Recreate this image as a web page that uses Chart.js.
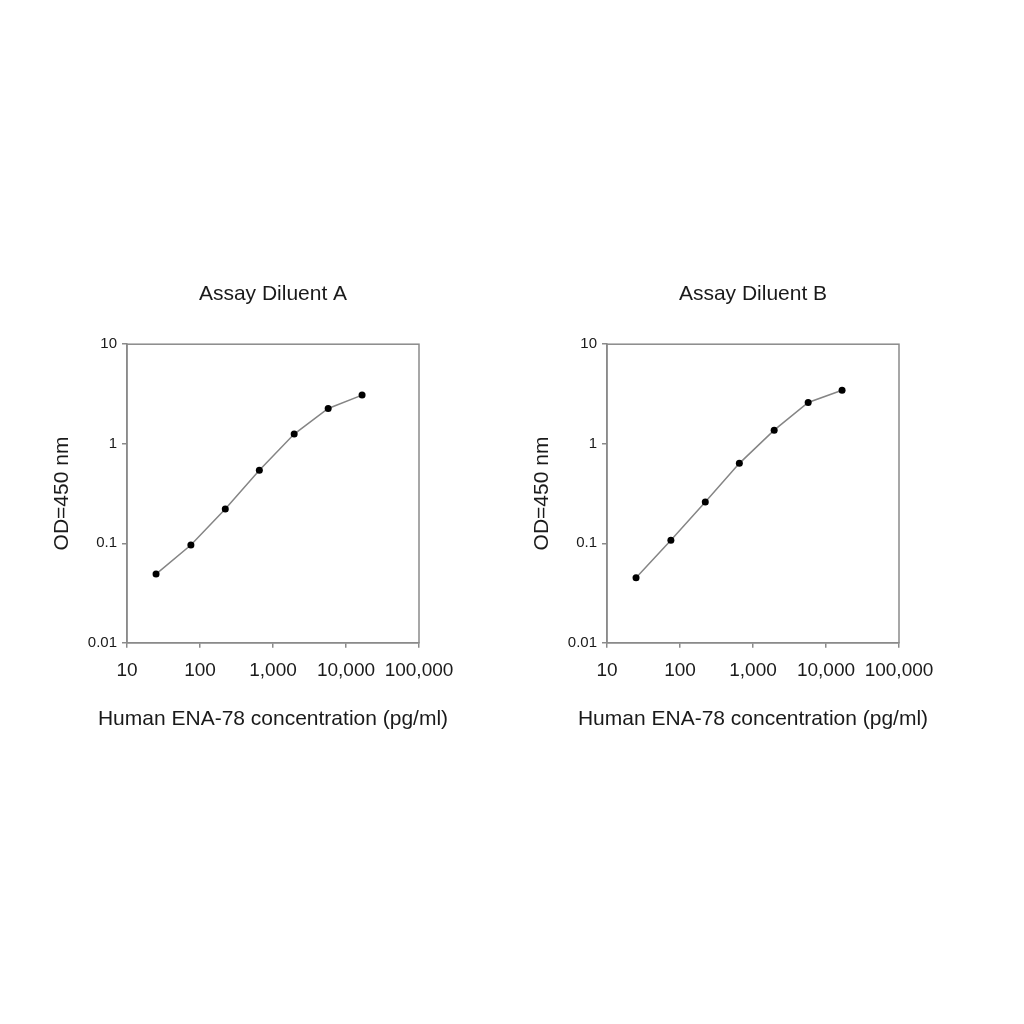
<!DOCTYPE html>
<html>
<head>
	<title>Human ENA-78 standard curves</title>
	<script src="https://cdn.jsdelivr.net/npm/chart.js"></script>
	<style>
		body {
			margin: 0px;
			padding: 0px;
			background: #ffffff;
			width: 1024px;
			height: 1024px;
			position: relative;
			overflow: hidden;
		}
		.chart-canvas {
			position: absolute;
			top: 250px;
			width: 546px;
			height: 520px;
		}
	</style>
</head>
<body>
	<canvas id="chartA" class="chart-canvas" width="546" height="520" style="left:0px"></canvas>
	<canvas id="chartB" class="chart-canvas" width="546" height="520" style="left:480px"></canvas>
	<script>
		// concentration of the standards (pg/ml)
		var concentration = [25, 75, 222, 650, 1950, 5700, 16600];
		// OD at 450 nm
		var odDiluentA = [0.049, 0.096, 0.221, 0.541, 1.25, 2.26, 3.08];
		var odDiluentB = [0.045, 0.107, 0.260, 0.635, 1.37, 2.60, 3.44];
		// decade ticks
		var xTicks = [10, 100, 1000, 10000, 100000];
		var yTicks = [0.01, 0.1, 1, 10];

		var frameColor = '#8a8a8a';
		var textColor = '#1a1a1a';
		var fontFamily = '"Liberation Sans", Arial, sans-serif';

		// box round the plot area
		var boxPlugin = {
			id: 'plotBox',
			afterDraw: function(chart) {
				var a = chart.chartArea;
				var ctx = chart.ctx;
				ctx.save();
				ctx.strokeStyle = frameColor;
				ctx.lineWidth = 1.5;
				ctx.strokeRect(a.left, a.top, a.right - a.left, a.bottom - a.top);
				ctx.restore();
			}
		};

		function makeChart(id, title, values) {
			var ctx = document.getElementById(id).getContext('2d');
			return new Chart(ctx, {
				type: 'line',
				data: {
					datasets: [{
						data: concentration.map(function(c, i) { return {x: c, y: values[i]}; }),
						borderColor: '#858585',
						borderWidth: 1.5,
						pointRadius: 3.5,
						pointBackgroundColor: '#000000',
						pointBorderColor: '#000000',
						pointBorderWidth: 0,
						tension: 0,
						fill: false
					}]
				},
				plugins: [boxPlugin],
				options: {
					responsive: false,
					maintainAspectRatio: false,
					animation: false,
					devicePixelRatio: 1,
					layout: { padding: 0 },
					plugins: {
						legend: { display: false },
						tooltip: { enabled: false },
						title: {
							display: true,
							text: title,
							color: textColor,
							font: { family: fontFamily, size: 21, weight: 'normal' },
							padding: { top: 32, bottom: 37 }
						},
						// x axis title, put here so it is not squeezed to the plot width
						subtitle: {
							display: true,
							position: 'bottom',
							text: 'Human ENA-78 concentration (pg/ml)',
							color: textColor,
							font: { family: fontFamily, size: 21, weight: 'normal' },
							padding: { top: 10, bottom: 38 }
						}
					},
					scales: {
						x: {
							type: 'logarithmic',
							min: 10,
							max: 100000,
							afterBuildTicks: function(scale) {
								scale.ticks = xTicks.map(function(v) { return {value: v}; });
							},
							afterFit: function(scale) { scale.height = 54; },
							grid: { drawOnChartArea: false, drawTicks: true, tickLength: 5, color: frameColor, lineWidth: 1.5 },
							border: { display: true, color: frameColor, width: 1.5 },
							ticks: {
								autoSkip: false,
								maxRotation: 0,
								padding: 12,
								color: textColor,
								font: { family: fontFamily, size: 19 },
								callback: function(v) { return Number(v).toLocaleString('en-US'); }
							}
						},
						y: {
							type: 'logarithmic',
							min: 0.01,
							max: 10,
							afterBuildTicks: function(scale) {
								scale.ticks = yTicks.map(function(v) { return {value: v}; });
							},
							afterFit: function(scale) { scale.width = 127; },
							grid: { drawOnChartArea: false, drawTicks: true, tickLength: 5, color: frameColor, lineWidth: 1.5 },
							border: { display: true, color: frameColor, width: 1.5 },
							ticks: {
								autoSkip: false,
								padding: 5,
								color: textColor,
								font: { family: fontFamily, size: 15 },
								callback: function(v) { return String(v); }
							},
							title: {
								display: true,
								text: 'OD=450 nm',
								color: textColor,
								font: { family: fontFamily, size: 21 },
								padding: { top: 50, bottom: 0 }
							}
						},
						// empty right axis, only keeps the titles centred over the plot
						yRight: {
							type: 'linear',
							position: 'right',
							display: true,
							afterFit: function(scale) { scale.width = 127; },
							grid: { display: false },
							border: { display: false },
							ticks: { display: false }
						}
					}
				}
			});
		}

		var chartA = makeChart('chartA', 'Assay Diluent A', odDiluentA);
		var chartB = makeChart('chartB', 'Assay Diluent B', odDiluentB);
	</script>
</body>
</html>
